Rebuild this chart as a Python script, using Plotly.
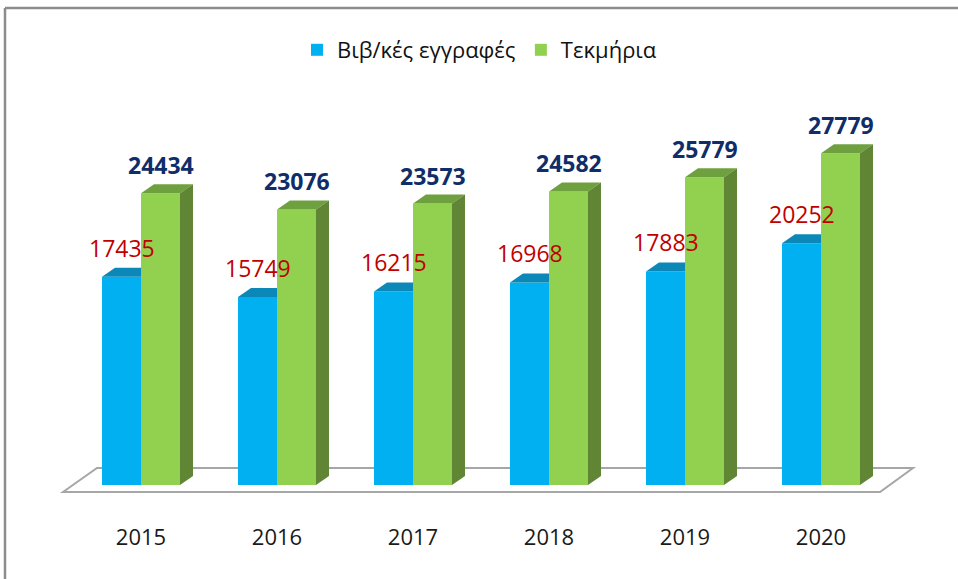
import plotly.graph_objects as go

years = ["2015", "2016", "2017", "2018", "2019", "2020"]
records = [17435, 15749, 16215, 16968, 17883, 20252]
items = [24434, 23076, 23573, 24582, 25779, 27779]
series_names = ["Βιβ/κές εγγραφές", "Τεκμήρια"]

FONT = "Open Sans"
W, H = 958, 579
# plot area in pixels
L, R, T, B = 40, 940, 60, 522
px_per_cat = 136.0
zero_px = 485.0
px_per_val = 0.01194
x0_px = 141.0

xmin = (L - x0_px) / px_per_cat
xmax = (R - x0_px) / px_per_cat
ymax = (zero_px - T) / px_per_val
ymin = (zero_px - B) / px_per_val

def X(px):
    return (px - x0_px) / px_per_cat

def Y(py):
    return (zero_px - py) / px_per_val

bw = 39 / px_per_cat          # front face width
dx = 13 / px_per_cat          # depth offset x
dy = 9 / px_per_val           # depth offset y

blue, blue_top = "#00B0F0", "#0B88B8"
green, green_top, green_side = "#92D050", "#6FA040", "#5F8535"

xs = list(range(len(years)))
fig = go.Figure()

fig.add_trace(go.Bar(x=xs, y=records, width=bw, offset=-bw, marker=dict(color=blue, line=dict(width=0)),
                     name=series_names[0], hoverinfo="skip"))
fig.add_trace(go.Bar(x=xs, y=items, width=bw, offset=0, marker=dict(color=green, line=dict(width=0)),
                     name=series_names[1], hoverinfo="skip"))

# 3D faces derived from the data
for i, (r, g) in enumerate(zip(records, items)):
    lft = i - bw
    fig.add_trace(go.Scatter(x=[lft, i, i, lft + dx, lft], y=[r, r, r + dy, r + dy, r], fill="toself",
                             fillcolor=blue_top, mode="none", showlegend=False, hoverinfo="skip"))
    fig.add_trace(go.Scatter(x=[i, i + bw, i + bw + dx, i + dx, i], y=[g, g, g + dy, g + dy, g], fill="toself",
                             fillcolor=green_top, mode="none", showlegend=False, hoverinfo="skip"))
    fig.add_trace(go.Scatter(x=[i + bw, i + bw + dx, i + bw + dx, i + bw, i + bw], y=[0, dy, g + dy, g, 0],
                             fill="toself", fillcolor=green_side, mode="none", showlegend=False, hoverinfo="skip"))

annotations = []
for i, (r, g) in enumerate(zip(records, items)):
    annotations.append(dict(x=i - bw / 2, y=r, xref="x", yref="y", text=str(r), showarrow=False,
                            yanchor="middle", yshift=29, font=dict(family=FONT, size=23, color="#C00000")))
    annotations.append(dict(x=i + bw / 2, y=g, xref="x", yref="y", text="<b>%d</b>" % g, showarrow=False,
                            yanchor="middle", yshift=28, font=dict(family=FONT, size=23, color="#0F2D69")))

shapes = [
    # floor
    dict(type="path", xref="x", yref="y", layer="below",
         path="M %f,%f L %f,%f L %f,%f L %f,%f Z" % (X(63), Y(492), X(97), Y(468), X(913), Y(468), X(880), Y(492)),
         line=dict(color="#A6A6A6", width=2), fillcolor="white"),
    # outer frame
    dict(type="line", xref="paper", yref="paper", x0=(5 - L) / (R - L), x1=(W + 10 - L) / (R - L),
         y0=(B - 8) / (B - T), y1=(B - 8) / (B - T), line=dict(color="#8C8C8C", width=2.5)),
    dict(type="line", xref="paper", yref="paper", x0=(5 - L) / (R - L), x1=(5 - L) / (R - L),
         y0=(B - 8) / (B - T), y1=(B - H - 10) / (B - T), line=dict(color="#8C8C8C", width=2.5)),
]

fig.update_layout(
    width=W, height=H,
    margin=dict(l=L, r=W - R, t=T, b=H - B),
    paper_bgcolor="white", plot_bgcolor="white",
    barmode="overlay",
    showlegend=True,
    legend=dict(orientation="h", x=(297 - L) / (R - L), xanchor="left", y=(B - 50) / (B - T), yanchor="middle",
                font=dict(family=FONT, size=22, color="#111111"), itemwidth=30, traceorder="normal",
                bgcolor="rgba(0,0,0,0)"),
    xaxis=dict(range=[xmin, xmax], tickvals=xs, ticktext=years, showgrid=False, zeroline=False,
               showline=False, ticks="", tickfont=dict(family=FONT, size=22, color="#1A1A1A"), fixedrange=True),
    yaxis=dict(range=[ymin, ymax], showgrid=False, zeroline=False, showline=False, showticklabels=False,
               fixedrange=True),
    annotations=annotations,
    shapes=shapes,
)

fig.write_html("out.html", config={"displayModeBar": False},
               post_script="document.body.style.margin='0';document.body.style.overflow='hidden';")
